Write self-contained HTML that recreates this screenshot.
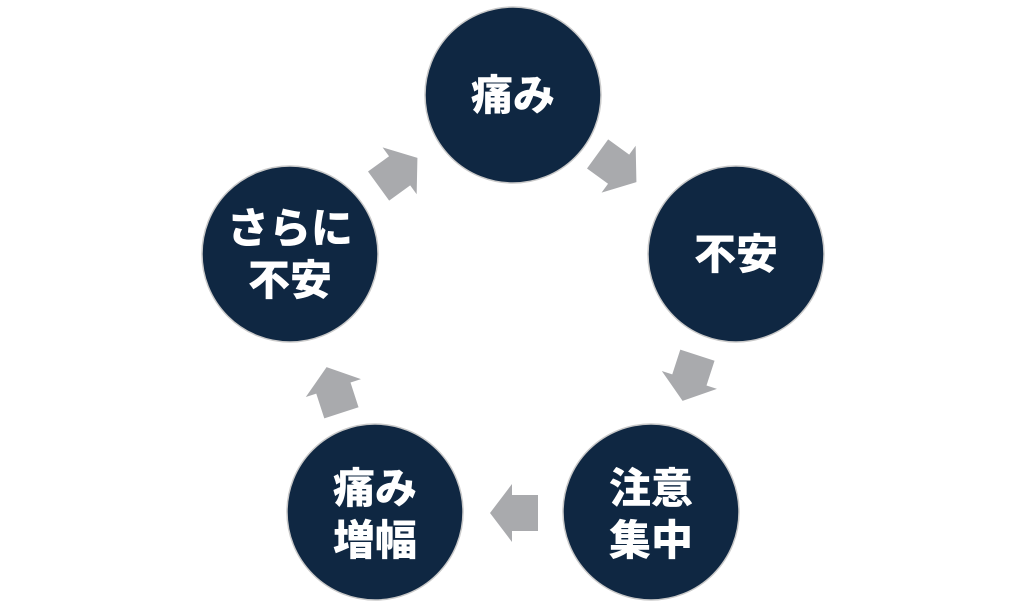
<!DOCTYPE html>
<html><head><meta charset="utf-8"><style>
body{margin:0;background:#fff;width:1024px;height:607px;overflow:hidden;}
</style></head><body>
<svg width="1024" height="607" xmlns="http://www.w3.org/2000/svg">
<defs>
<polygon id="ar" points="-24,-18 2,-18 2,-29 24,0 2,29 2,18 -24,18" fill="#a9aaad"/>
</defs>
<g fill="#0f2742" stroke="#c9c9c9" stroke-width="1.5">
<circle cx="513" cy="95" r="88"/>
<circle cx="736" cy="254" r="88"/>
<circle cx="651" cy="512" r="88"/>
<circle cx="375" cy="512" r="88"/>
<circle cx="290" cy="254" r="88"/>
</g>
<use href="#ar" transform="translate(398,172) rotate(-36)"/>
<use href="#ar" transform="translate(617,168) rotate(36)"/>
<use href="#ar" transform="translate(690,378) rotate(108)"/>
<use href="#ar" transform="translate(514,513) rotate(180)"/>
<use href="#ar" transform="translate(334,390) rotate(-108)"/>
<g fill="#fff" font-family="'Noto Sans CJK JP',sans-serif" font-weight="900" font-size="42" text-anchor="middle">
<text x="513" y="110">痛み</text>
<text x="736" y="269">不安</text>
<text x="651" y="503">注意</text>
<text x="651" y="555">集中</text>
<text x="375" y="503">痛み</text>
<text x="375" y="555">増幅</text>
<text x="290" y="243">さらに</text>
<text x="290" y="295">不安</text>
</g>
</svg>
</body></html>
